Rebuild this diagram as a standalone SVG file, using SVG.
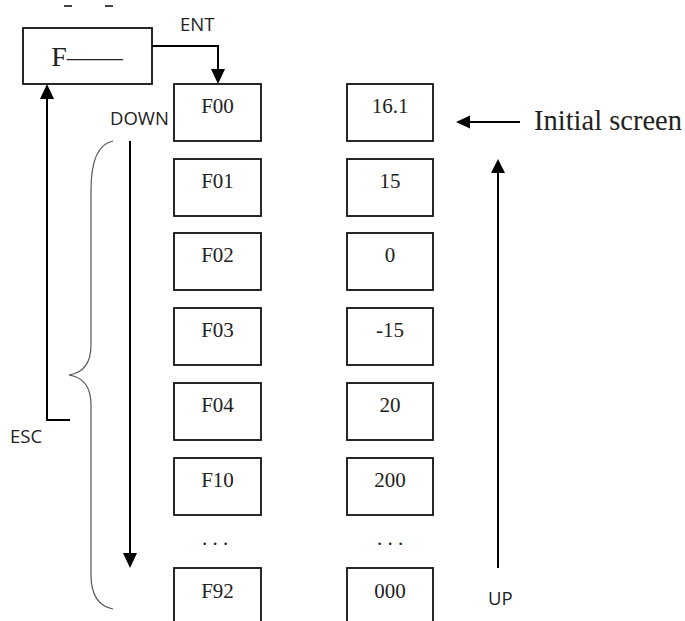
<svg xmlns="http://www.w3.org/2000/svg" width="685" height="621" viewBox="0 0 685 621">
<defs>
<style>
.box{fill:#fff;stroke:#111;stroke-width:1.8}
.bt{font-family:"Liberation Serif","Times New Roman",serif;font-size:21px;fill:#222;text-anchor:middle}
.lbl{font-family:"Open Sans","Liberation Sans",sans-serif;font-size:18.5px;fill:#222}
.ln{fill:none;stroke:#000;stroke-width:2}
.ah{fill:#000;stroke:none}
</style>
</defs>
<rect width="685" height="621" fill="#fff"/>
<g id="fragments" stroke="#444" stroke-width="2">
<line x1="64" y1="6" x2="72" y2="6"/>
<line x1="105" y1="6" x2="113" y2="6"/>
</g>
<g id="node-F">
<rect class="box" x="23" y="28" width="129" height="56"/>
<text x="87" y="66" font-family="Liberation Serif,serif" font-size="28" fill="#222" text-anchor="middle">F——</text>
</g>
<g id="node-F00"><rect class="box" x="174" y="84" width="87" height="57"/><text class="bt" x="217.5" y="113">F00</text></g>
<g id="node-F01"><rect class="box" x="174" y="159" width="87" height="57"/><text class="bt" x="217.5" y="188">F01</text></g>
<g id="node-F02"><rect class="box" x="174" y="233" width="87" height="57"/><text class="bt" x="217.5" y="262">F02</text></g>
<g id="node-F03"><rect class="box" x="174" y="308" width="87" height="57"/><text class="bt" x="217.5" y="337">F03</text></g>
<g id="node-F04"><rect class="box" x="174" y="383" width="87" height="57"/><text class="bt" x="217.5" y="412">F04</text></g>
<g id="node-F10"><rect class="box" x="174" y="458" width="87" height="57"/><text class="bt" x="217.5" y="487">F10</text></g>
<g id="node-F92"><rect class="box" x="174" y="568" width="87" height="57"/><text class="bt" x="217.5" y="598">F92</text></g>
<g id="node-v00"><rect class="box" x="347" y="84" width="86" height="57"/><text class="bt" x="390" y="113">16.1</text></g>
<g id="node-v01"><rect class="box" x="347" y="159" width="86" height="57"/><text class="bt" x="390" y="188">15</text></g>
<g id="node-v02"><rect class="box" x="347" y="233" width="86" height="57"/><text class="bt" x="390" y="262">0</text></g>
<g id="node-v03"><rect class="box" x="347" y="308" width="86" height="57"/><text class="bt" x="390" y="337">-15</text></g>
<g id="node-v04"><rect class="box" x="347" y="383" width="86" height="57"/><text class="bt" x="390" y="412">20</text></g>
<g id="node-v10"><rect class="box" x="347" y="458" width="86" height="57"/><text class="bt" x="390" y="487">200</text></g>
<g id="node-v92"><rect class="box" x="347" y="568" width="86" height="57"/><text class="bt" x="390" y="598">000</text></g>
<g id="dots">
<text class="bt" x="215" y="545">. . .</text>
<text class="bt" x="390" y="545">. . .</text>
</g>
<g id="brace">
<path d="M113,141 C98,144 91,160 91,190 L91,345 C91,365 82,373 69,375 C82,377 91,385 91,405 L91,575 C91,595 98,606 113,609" fill="none" stroke="#555" stroke-width="1.2"/>
</g>
<g id="connectors">
<polyline class="ln" points="152,46 218,46 218,70"/>
<polygon class="ah" points="211,69 225,69 218,84"/>
<polyline class="ln" points="70,420 47,420 47,98"/>
<polygon class="ah" points="40,99 54,99 47,84"/>
<line class="ln" x1="130" y1="141" x2="130" y2="554"/>
<polygon class="ah" points="123,553 137,553 130,568"/>
<line class="ln" x1="520" y1="122" x2="469" y2="122"/>
<polygon class="ah" points="470,115.5 470,128.5 456,122"/>
<line class="ln" x1="498" y1="568" x2="498" y2="172"/>
<polygon class="ah" points="491,173 505,173 498,159"/>
</g>
<g id="labels">
<text class="lbl" x="180" y="31">ENT</text>
<text class="lbl" x="110" y="125">DOWN</text>
<text class="lbl" x="10" y="443">ESC</text>
<text class="lbl" x="488" y="605">UP</text>
<text x="534" y="130" font-family="Liberation Serif,serif" font-size="28.5" fill="#222">Initial screen</text>
</g>
</svg>
